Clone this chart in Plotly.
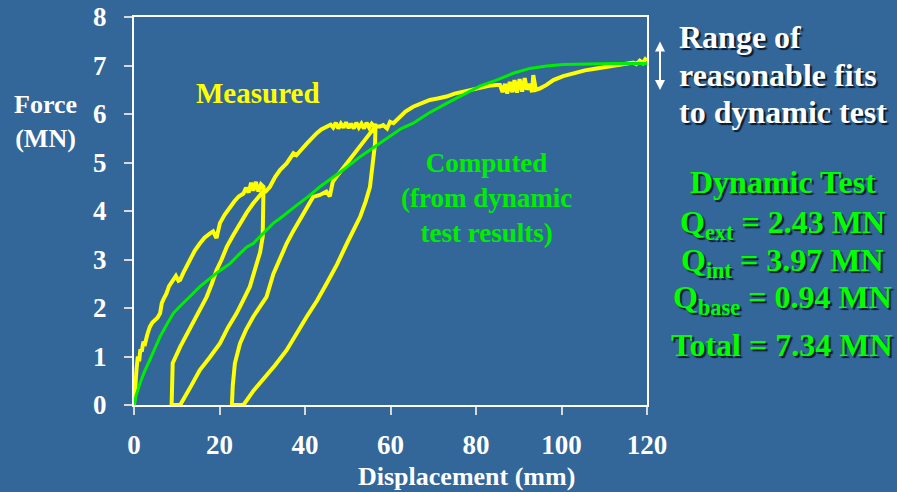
import plotly.graph_objects as go

# Measured load-displacement (mm, MN)
meas_x = [0, 0.3, 0.6, 0.9, 1.2, 1.5, 1.8, 2.2, 2.6, 3.1, 3.7, 4.3, 4.9, 5.5, 6.1, 6.5, 7.0, 7.6, 8.2, 9.2, 9.8,
          10.4, 10.8, 11.5, 12.3, 13.1, 14.2, 15.4, 16.5, 17.8, 18.5, 19.3, 20.1, 21.2, 22.5, 23.5, 24.5, 25.6,
          26.2, 26.8, 27.4, 27.9, 28.5, 29.1, 29.7, 30.3,
          30.2, 30.1, 29.5, 28.7, 27.1, 25.5, 24.0, 22.0, 20.1, 17.7, 15.4, 13.4, 11.5, 10.8,
          8.8,
          8.85, 9.05, 10.8, 12.8, 14.7, 17.0, 18.2, 19.3, 20.5, 21.7, 23.2, 24.8, 26.4, 27.9, 29.2, 30.2,
          30.8, 31.8, 33.0, 34.2, 35.7, 36.5, 37.3, 38.0, 38.8, 39.5, 40.4, 41.5, 42.7, 43.8, 45.1, 46.0,
          46.6, 47.2, 47.8, 48.4, 49.0, 49.6, 50.2, 50.8, 51.4, 52.0, 52.6, 53.2, 53.8, 54.4, 55.0, 55.6, 56.2, 56.5,
          56.4, 56.0, 55.2, 54.2, 52.9, 49.8, 47.5, 45.1, 42.8, 40.4, 38.0, 35.7, 33.0, 30.2, 28.0, 25.6,
          22.9,
          23.1, 23.6, 24.8, 26.2, 27.9, 29.5, 31.0, 32.6, 33.8, 35.7, 37.2, 38.8, 40.4, 41.9, 43.5, 45.0, 45.8,
          46.5, 47.4, 49.8, 51.3, 52.9, 54.5, 56.0, 56.6,
          57.5, 58.3, 59.2, 59.9, 60.7, 61.5, 62.2, 63.5, 65.3, 67.0, 69.2, 71.0, 73.1, 75.0, 77.0, 79.0, 81.0,
          83.0, 84.8, 85.6, 86.2, 86.8, 87.3, 87.9, 88.5, 89.0, 89.6, 90.2, 90.8, 91.4, 91.9, 92.5, 93.1, 93.4,
          94.0, 95.0, 96.5, 98.1, 100.4, 102.8, 105.5, 108.2, 110.9, 113.6, 116.8, 117.5, 118.3, 119.0, 119.6, 120.0]
meas_y = [0, 0.55, 0.75, 1.0, 0.9, 1.15, 1.1, 1.3, 1.27, 1.45, 1.61, 1.7, 1.75, 1.8, 1.89, 2.1, 2.2, 2.3, 2.45,
          2.58, 2.66, 2.56, 2.58, 2.72, 2.85, 2.99, 3.18, 3.33, 3.45, 3.54, 3.58, 3.44, 3.75, 3.92, 4.09, 4.2,
          4.3, 4.36, 4.48, 4.38, 4.58, 4.42, 4.6, 4.4, 4.55, 4.5,
          4.0, 3.47, 3.15, 2.92, 2.44, 2.15, 1.89, 1.6, 1.27, 0.98, 0.72, 0.4, 0.1, 0.0,
          0.0,
          0.4, 0.86, 1.2, 1.52, 1.82, 2.23, 2.5, 2.78, 3.0, 3.26, 3.5, 3.75, 3.97, 4.16, 4.3, 4.4,
          4.4, 4.5, 4.7, 4.85, 4.98, 5.1, 5.19, 5.15, 5.22, 5.3, 5.39, 5.5, 5.6, 5.68, 5.74, 5.78,
          5.72, 5.82, 5.7, 5.8, 5.72, 5.83, 5.71, 5.8, 5.7, 5.82, 5.72, 5.8, 5.7, 5.82, 5.72, 5.8, 5.74, 5.8,
          5.4, 5.05, 4.5, 4.2, 3.88, 3.33, 2.9, 2.51, 2.15, 1.82, 1.45, 1.13, 0.82, 0.52, 0.3, 0.0,
          0.0,
          0.4, 0.86, 1.27, 1.55, 1.82, 2.02, 2.23, 2.7, 2.95, 3.33, 3.58, 3.81, 4.05, 4.29, 4.33, 4.4, 4.3,
          4.6, 4.71, 4.98, 5.15, 5.33, 5.5, 5.67, 5.76,
          5.74, 5.77, 5.7, 5.84, 5.81, 5.88, 5.94, 6.05, 6.15, 6.22, 6.29, 6.32, 6.36, 6.42, 6.46, 6.5, 6.56,
          6.58, 6.6, 6.6, 6.45, 6.62, 6.42, 6.66, 6.45, 6.7, 6.44, 6.72, 6.46, 6.74, 6.5, 6.62, 6.45, 6.8,
          6.5, 6.53, 6.6, 6.7, 6.78, 6.84, 6.9, 6.94, 6.98, 7.01, 7.06, 7.03, 7.1, 7.05, 7.13, 7.1]

# Computed curve (from dynamic test results)
comp_x = [0, 0.5, 1.4, 2.5, 3.7, 4.9, 6.1, 7.6, 9.2, 10.7, 12.3, 13.8, 15.4, 17.3, 19.3, 20.9, 22.5, 24.5, 26.4,
          27.9, 30.2, 32.6, 34.2, 36.0, 38.1, 40.8, 43.5, 46.3, 49.0, 52.9, 56.4, 59.9, 62.5, 65.3, 69.0, 73.1,
          77.0, 81.0, 84.8, 88.7, 92.6, 96.5, 100.4, 104.4, 108.2, 112.1, 116.0, 120.0]
comp_y = [0, 0.2, 0.45, 0.7, 0.93, 1.18, 1.41, 1.65, 1.89, 2.03, 2.16, 2.3, 2.44, 2.58, 2.72, 2.82, 2.92, 3.1, 3.26,
          3.33, 3.54, 3.75, 3.85, 3.98, 4.12, 4.3, 4.5, 4.68, 4.85, 5.12, 5.33, 5.53, 5.7, 5.81, 6.02, 6.22,
          6.4, 6.58, 6.7, 6.84, 6.94, 6.99, 7.02, 7.03, 7.04, 7.04, 7.04, 7.04]

x_ticks = [0, 20, 40, 60, 80, 100, 120]
y_ticks = [0, 1, 2, 3, 4, 5, 6, 7, 8]

BG = "#336699"
SERIF = "Times New Roman, Liberation Serif, serif"
SHADOW = "2px 2px 1px #0a1a2a"

fig = go.Figure()
fig.add_trace(go.Scatter(x=meas_x, y=meas_y, mode="lines",
                         line=dict(color="#ffff00", width=4), hoverinfo="skip"))
fig.add_trace(go.Scatter(x=comp_x, y=comp_y, mode="lines",
                         line=dict(color="#00ee00", width=3), hoverinfo="skip"))

# pixel -> paper helpers (plot area: x 134..647, y 17..405)
L, R, T, B = 134, 647, 17, 405
def px(x):
    return (x - L) / (R - L)
def py(y):
    return (B - y) / (B - T)

ann = []
def add_text(text, x, y, color, size, xanchor="center", align="center", shadow=None):
    f = dict(family=SERIF, size=size, color=color, weight="bold")
    if shadow:
        f["shadow"] = shadow
    ann.append(dict(text=text, x=px(x), y=py(y), xref="paper", yref="paper",
                    xanchor=xanchor, yanchor="middle", align=align, showarrow=False, font=f))

add_text("Force<br>(MN)", 45, 121, "white", 26)
add_text("Displacement (mm)", 466, 476, "white", 26)
add_text("Measured", 258, 93, "#ffff00", 29)
add_text("Computed<br>(from dynamic<br>test results)", 486, 198, "#00ee00", 27)
add_text("Range of", 677, 37, "white", 32, xanchor="left", align="left", shadow=SHADOW)
add_text("reasonable fits", 677, 75, "white", 32, xanchor="left", align="left", shadow=SHADOW)
add_text("to dynamic test", 677, 112, "white", 32, xanchor="left", align="left", shadow=SHADOW)
add_text("Dynamic Test", 783, 182, "#00ff00", 32, shadow=SHADOW)
add_text("Q<sub>ext</sub> = 2.43 MN", 782, 224, "#00ff00", 32, shadow=SHADOW)
add_text("Q<sub>int</sub> = 3.97 MN", 782, 262, "#00ff00", 32, shadow=SHADOW)
add_text("Q<sub>base</sub> = 0.94 MN", 782, 299, "#00ff00", 32, shadow=SHADOW)
add_text("Total = 7.34 MN", 782, 345, "#00ff00", 32, shadow=SHADOW)

# double-headed arrow
ann.append(dict(x=px(660), y=py(90), xref="paper", yref="paper", ax=0, ay=-50,
                axref="pixel", ayref="pixel", text="", showarrow=True,
                arrowhead=2, startarrowhead=2, arrowside="end+start",
                arrowsize=1, startarrowsize=1, arrowwidth=2, arrowcolor="white"))

fig.update_layout(
    width=897, height=492,
    margin=dict(l=L, r=897 - R, t=T, b=492 - B, autoexpand=False),
    paper_bgcolor=BG, plot_bgcolor=BG,
    showlegend=False,
    annotations=ann,
    font=dict(family=SERIF),
)
fig.update_xaxes(range=[0, 120], tickvals=x_ticks, showgrid=False, zeroline=False, automargin=False,
                 showline=True, linecolor="white", linewidth=2, mirror=True,
                 ticks="outside", ticklen=8, tickwidth=2, tickcolor="#d8d8d8",
                 ticklabelstandoff=7,
                 tickfont=dict(family=SERIF, size=27, color="white", weight="bold"))
fig.update_yaxes(range=[0, 8], tickvals=y_ticks, showgrid=False, zeroline=False, automargin=False,
                 showline=True, linecolor="white", linewidth=2, mirror=True,
                 ticks="outside", ticklen=8, tickwidth=2, tickcolor="#d8d8d8",
                 ticklabelstandoff=12,
                 tickfont=dict(family=SERIF, size=27, color="white", weight="bold"))

fig.write_html("out.html", config={"displayModeBar": False},
               post_script="document.body.style.margin='0';document.body.style.background='%s';" % BG)
